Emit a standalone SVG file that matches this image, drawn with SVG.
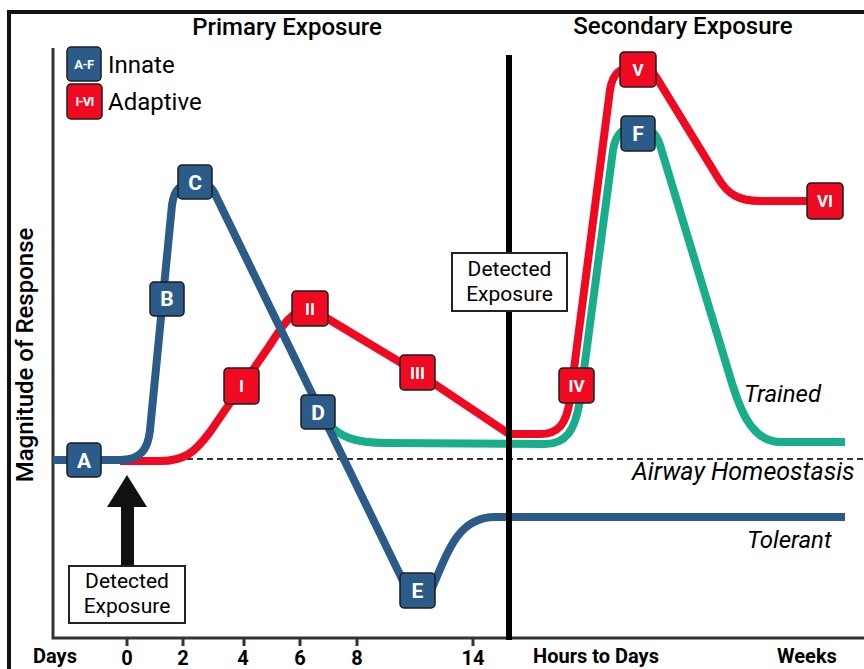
<svg xmlns="http://www.w3.org/2000/svg" width="864" height="669" viewBox="0 0 864 669">
<style>
.t{font-family:Roboto,"Liberation Sans",sans-serif;fill:#000}
.title{font-size:24px;font-weight:500;text-anchor:middle}
.ax{font-size:20px;font-weight:700;text-anchor:middle}
.lab{font-size:24px;font-style:italic}
.leg{font-size:24px}
.box{font-size:21px}
.nb rect{stroke:#1c1c1c;stroke-width:1.5}
.inn rect{fill:#2b5c89}
.ada rect{fill:#ef0a22}
.nb text{font-family:Roboto,"Liberation Sans",sans-serif;fill:#fff;font-weight:700;text-anchor:middle;font-size:21px}
.nb text.r{font-size:17px}
.line{fill:none;stroke-width:8;stroke-linecap:butt;stroke-linejoin:round}
</style>
<rect width="864" height="669" fill="#fff"/>
<!-- frame -->
<path d="M9 669 V12 H864" fill="none" stroke="#111" stroke-width="4"/>
<!-- axes -->
<g id="axes" stroke="#333" stroke-width="3" fill="none">
<path d="M53 48 V638 H864"/>
<path d="M127 638v8M183 638v8M244 638v8M300 638v8M357 638v8M473 638v8"/>
</g>
<line id="homeostasis" x1="127" y1="459" x2="864" y2="459" stroke="#333" stroke-width="2" stroke-dasharray="6 4"/>
<!-- connectors -->
<g id="connectors">
<path id="trained" class="line" stroke="#19ad8c" d="M326 422 C340 437 355 443 385 443 L545 444 C565 444 575 432 580 400 L613 150 C616 132 624 127 638 127 C650 127 656 133 660 145 L728 370 C738 405 750 442 780 442 L845 442"/>
<path id="adaptive" class="line" stroke="#ef0a22" d="M120 461 L160 461 C185 461 195 452 210 432 L270 345 C282 326 292 310 310 308 L418 373 L509 434 L540 434 C558 434 566 425 570 400 L610 90 C613 72 620 67 638 67 C648 67 652 70 658 80 L718 178 C728 195 740 201 760 201 L825 201"/>
<path id="innate" class="line" stroke="#2b5c89" d="M53 460 L120 460 C140 460 148 450 150 430 L172 205 C174 190 180 183 195 183 C205 183 210 185 214 192 L405 585 C412 598 425 598 432 588 C445 560 455 517 495 517 L845 517"/>
<line id="divider" x1="509" y1="55" x2="509" y2="640" stroke="#000" stroke-width="6"/>
<path id="arrow" d="M121 566 V507 H107 L127 475 L147 507 H134 V566 Z" fill="#111"/>
</g>
<!-- titles -->
<text class="t title" x="287" y="35">Primary Exposure</text>
<text class="t title" x="683" y="34">Secondary Exposure</text>
<text class="t" font-size="24" font-weight="500" text-anchor="middle" transform="translate(33 355) rotate(-90)">Magnitude of Response</text>
<!-- legend -->
<g id="legend-innate" class="nb inn">
<rect x="67" y="47" width="34" height="34" rx="4"/>
<text x="84" y="69" style="font-size:13px;letter-spacing:-0.5px">A-F</text>
<text class="t leg" x="108" y="73" style="fill:#000;font-weight:400;text-anchor:start;font-size:24px">Innate</text>
</g>
<g id="legend-adaptive" class="nb ada">
<rect x="67" y="84" width="35" height="35" rx="4"/>
<text x="84.5" y="106" style="font-size:13px;letter-spacing:-0.8px">I-VI</text>
<text class="t leg" x="108" y="110" style="fill:#000;font-weight:400;text-anchor:start;font-size:24px">Adaptive</text>
</g>
<!-- detected exposure boxes -->
<g id="detected-1">
<rect x="69" y="566" width="116" height="57" fill="#fff" stroke="#222" stroke-width="2"/>
<text class="t box" x="127" y="588" text-anchor="middle">Detected</text>
<text class="t box" x="127" y="613" text-anchor="middle">Exposure</text>
</g>
<g id="detected-2">
<rect x="452" y="253" width="115" height="58" fill="#fff" stroke="#222" stroke-width="2"/>
<text class="t box" x="509.5" y="276" text-anchor="middle">Detected</text>
<text class="t box" x="509.5" y="301" text-anchor="middle">Exposure</text>
</g>
<!-- curve labels -->
<text class="t lab" x="744" y="402">Trained</text>
<text class="t lab" x="632" y="480" style="font-size:25px">Airway Homeostasis</text>
<text class="t lab" x="747" y="548">Tolerant</text>
<!-- nodes -->
<g id="node-A" class="nb inn"><rect x="67" y="443" width="34" height="34" rx="4"/><text x="84" y="468">A</text></g>
<g id="node-B" class="nb inn"><rect x="150" y="282" width="34" height="34" rx="4"/><text x="167" y="306">B</text></g>
<g id="node-C" class="nb inn"><rect x="178" y="165" width="34" height="34" rx="4"/><text x="195" y="190">C</text></g>
<g id="node-D" class="nb inn"><rect x="301" y="395" width="34" height="34" rx="4"/><text x="318" y="420">D</text></g>
<g id="node-E" class="nb inn"><rect x="400" y="573" width="35" height="35" rx="4"/><text x="417.5" y="598">E</text></g>
<g id="node-F" class="nb inn"><rect x="621" y="116" width="34" height="35" rx="4"/><text x="638" y="141">F</text></g>
<g id="node-I" class="nb ada"><rect x="224" y="368" width="35" height="36" rx="4"/><text class="r" x="241.5" y="392">I</text></g>
<g id="node-II" class="nb ada"><rect x="292" y="291" width="36" height="35" rx="4"/><text class="r" x="310" y="315">II</text></g>
<g id="node-III" class="nb ada"><rect x="400" y="355" width="35" height="35" rx="4"/><text class="r" x="417.5" y="379">III</text></g>
<g id="node-IV" class="nb ada"><rect x="559" y="368" width="35" height="35" rx="4"/><text class="r" x="576.5" y="392">IV</text></g>
<g id="node-V" class="nb ada"><rect x="620" y="52" width="36" height="35" rx="4"/><text class="r" x="638" y="76">V</text></g>
<g id="node-VI" class="nb ada"><rect x="807" y="183" width="36" height="36" rx="4"/><text class="r" x="825" y="207">VI</text></g>
<!-- axis labels -->
<text class="t ax" x="55" y="663">Days</text>
<text class="t ax" x="127" y="665">0</text>
<text class="t ax" x="183" y="665">2</text>
<text class="t ax" x="243" y="665">4</text>
<text class="t ax" x="300" y="665">6</text>
<text class="t ax" x="357" y="665">8</text>
<text class="t ax" x="473" y="665">14</text>
<text class="t ax" x="596" y="663">Hours to Days</text>
<text class="t ax" x="807" y="663">Weeks</text>
</svg>
